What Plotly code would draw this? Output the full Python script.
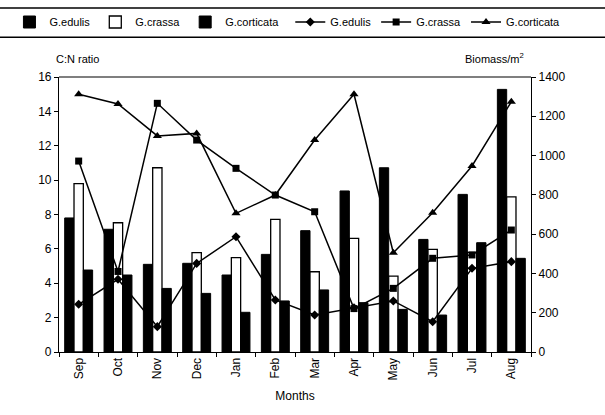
import plotly.graph_objects as go

months = ["Sep", "Oct", "Nov", "Dec", "Jan", "Feb", "Mar", "Apr", "May", "Jun", "Jul", "Aug"]

# C:N ratio (bars, left axis)
cn_edulis = [7.8, 7.14, 5.1, 5.16, 4.48, 5.68, 7.06, 9.37, 10.72, 6.55, 9.17, 15.28]
cn_crassa = [9.8, 7.52, 10.72, 5.78, 5.49, 7.72, 4.67, 6.61, 4.42, 5.97, 5.8, 9.03]
cn_corticata = [4.77, 4.48, 3.7, 3.41, 2.31, 2.97, 3.61, 2.87, 2.48, 2.15, 6.36, 5.45]

# Biomass per m2 (lines, right axis)
bm_edulis = [243, 370, 129, 451, 587, 265, 188, 225, 260, 154, 426, 460]
bm_crassa = [972, 410, 1266, 1079, 935, 799, 714, 221, 324, 477, 494, 621]
bm_corticata = [1312, 1263, 1100, 1113, 706, 799, 1079, 1312, 505, 709, 947, 1274]

left_ticks = [0, 2, 4, 6, 8, 10, 12, 14, 16]
right_ticks = [0, 200, 400, 600, 800, 1000, 1200, 1400]

FONT = "Arial, Liberation Sans, sans-serif"

fig = go.Figure()
fig.add_bar(x=months, y=cn_edulis, name="G.edulis", legend="legend",
            marker=dict(color="black", line=dict(color="black", width=1)))
fig.add_bar(x=months, y=cn_crassa, name="G.crassa", legend="legend",
            marker=dict(color="white", line=dict(color="black", width=1.3)))
fig.add_bar(x=months, y=cn_corticata, name="G.corticata", legend="legend",
            marker=dict(color="black", line=dict(color="black", width=1)))

fig.add_scatter(x=months, y=bm_edulis, name="G.edulis", yaxis="y2", mode="lines+markers",
                legend="legend2", line=dict(color="black", width=1.5),
                marker=dict(symbol="diamond", size=7, color="black"))
fig.add_scatter(x=months, y=bm_crassa, name="G.crassa", yaxis="y2", mode="lines+markers",
                legend="legend2", line=dict(color="black", width=1.5),
                marker=dict(symbol="square", size=7, color="black"))
fig.add_scatter(x=months, y=bm_corticata, name="G.corticata", yaxis="y2", mode="lines+markers",
                legend="legend2", line=dict(color="black", width=1.5),
                marker=dict(symbol="triangle-up", size=8, color="black"))

legend_common = dict(orientation="h", y=1.2, yanchor="middle", xanchor="left",
                     font=dict(size=11), bgcolor="rgba(0,0,0,0)",
                     itemwidth=30, tracegroupgap=0)

fig.update_layout(
    width=605, height=415,
    margin=dict(l=59, r=74, t=77, b=63, autoexpand=False),
    paper_bgcolor="white", plot_bgcolor="white",
    font=dict(family=FONT, size=12, color="black"),
    barmode="group", bargap=0.29, bargroupgap=0,
    showlegend=True,
    legend=dict(x=-0.105, **legend_common),
    legend2=dict(x=0.49, **legend_common),
    xaxis=dict(range=[-0.5, 11.5], showline=True, linecolor="black", linewidth=1.2,
               mirror=False, ticks="outside", ticklen=4, tickcolor="black",
               tickson="boundaries", tickangle=-90, tickfont=dict(size=12),
               title=dict(text="Months", font=dict(size=12), standoff=12)),
    yaxis=dict(range=[0, 16], tickvals=left_ticks, showline=True, linecolor="black",
               linewidth=1.2, ticks="outside", ticklen=4, tickcolor="black",
               showgrid=False, zeroline=False, tickfont=dict(size=12)),
    yaxis2=dict(range=[0, 1400], tickvals=right_ticks, overlaying="y", side="right",
                showline=True, linecolor="black", linewidth=1.2, ticks="outside",
                ticklen=4, tickcolor="black", showgrid=False, zeroline=False,
                tickfont=dict(size=12)),
    shapes=[
        dict(type="line", xref="paper", yref="paper", x0=0, x1=1, y0=1, y1=1,
             line=dict(color="black", width=1.2)),
        dict(type="line", xref="paper", yref="paper", x0=-0.125, x1=1.157, y0=1.251, y1=1.251,
             line=dict(color="black", width=1.5)),
        dict(type="line", xref="paper", yref="paper", x0=-0.125, x1=1.157, y0=1.145, y1=1.145,
             line=dict(color="black", width=1.5)),
    ],
    annotations=[
        dict(text="C:N ratio", xref="paper", yref="paper", x=-0.01, y=1.035,
             xanchor="left", yanchor="bottom", showarrow=False, font=dict(size=11)),
        dict(text="Biomass/m<sup>2</sup>", xref="paper", yref="paper", x=0.99, y=1.035,
             xanchor="right", yanchor="bottom", showarrow=False, font=dict(size=11)),
    ],
)

fig.write_html("out.html", config={"displayModeBar": False},
               post_script="document.body.style.margin='0';")
